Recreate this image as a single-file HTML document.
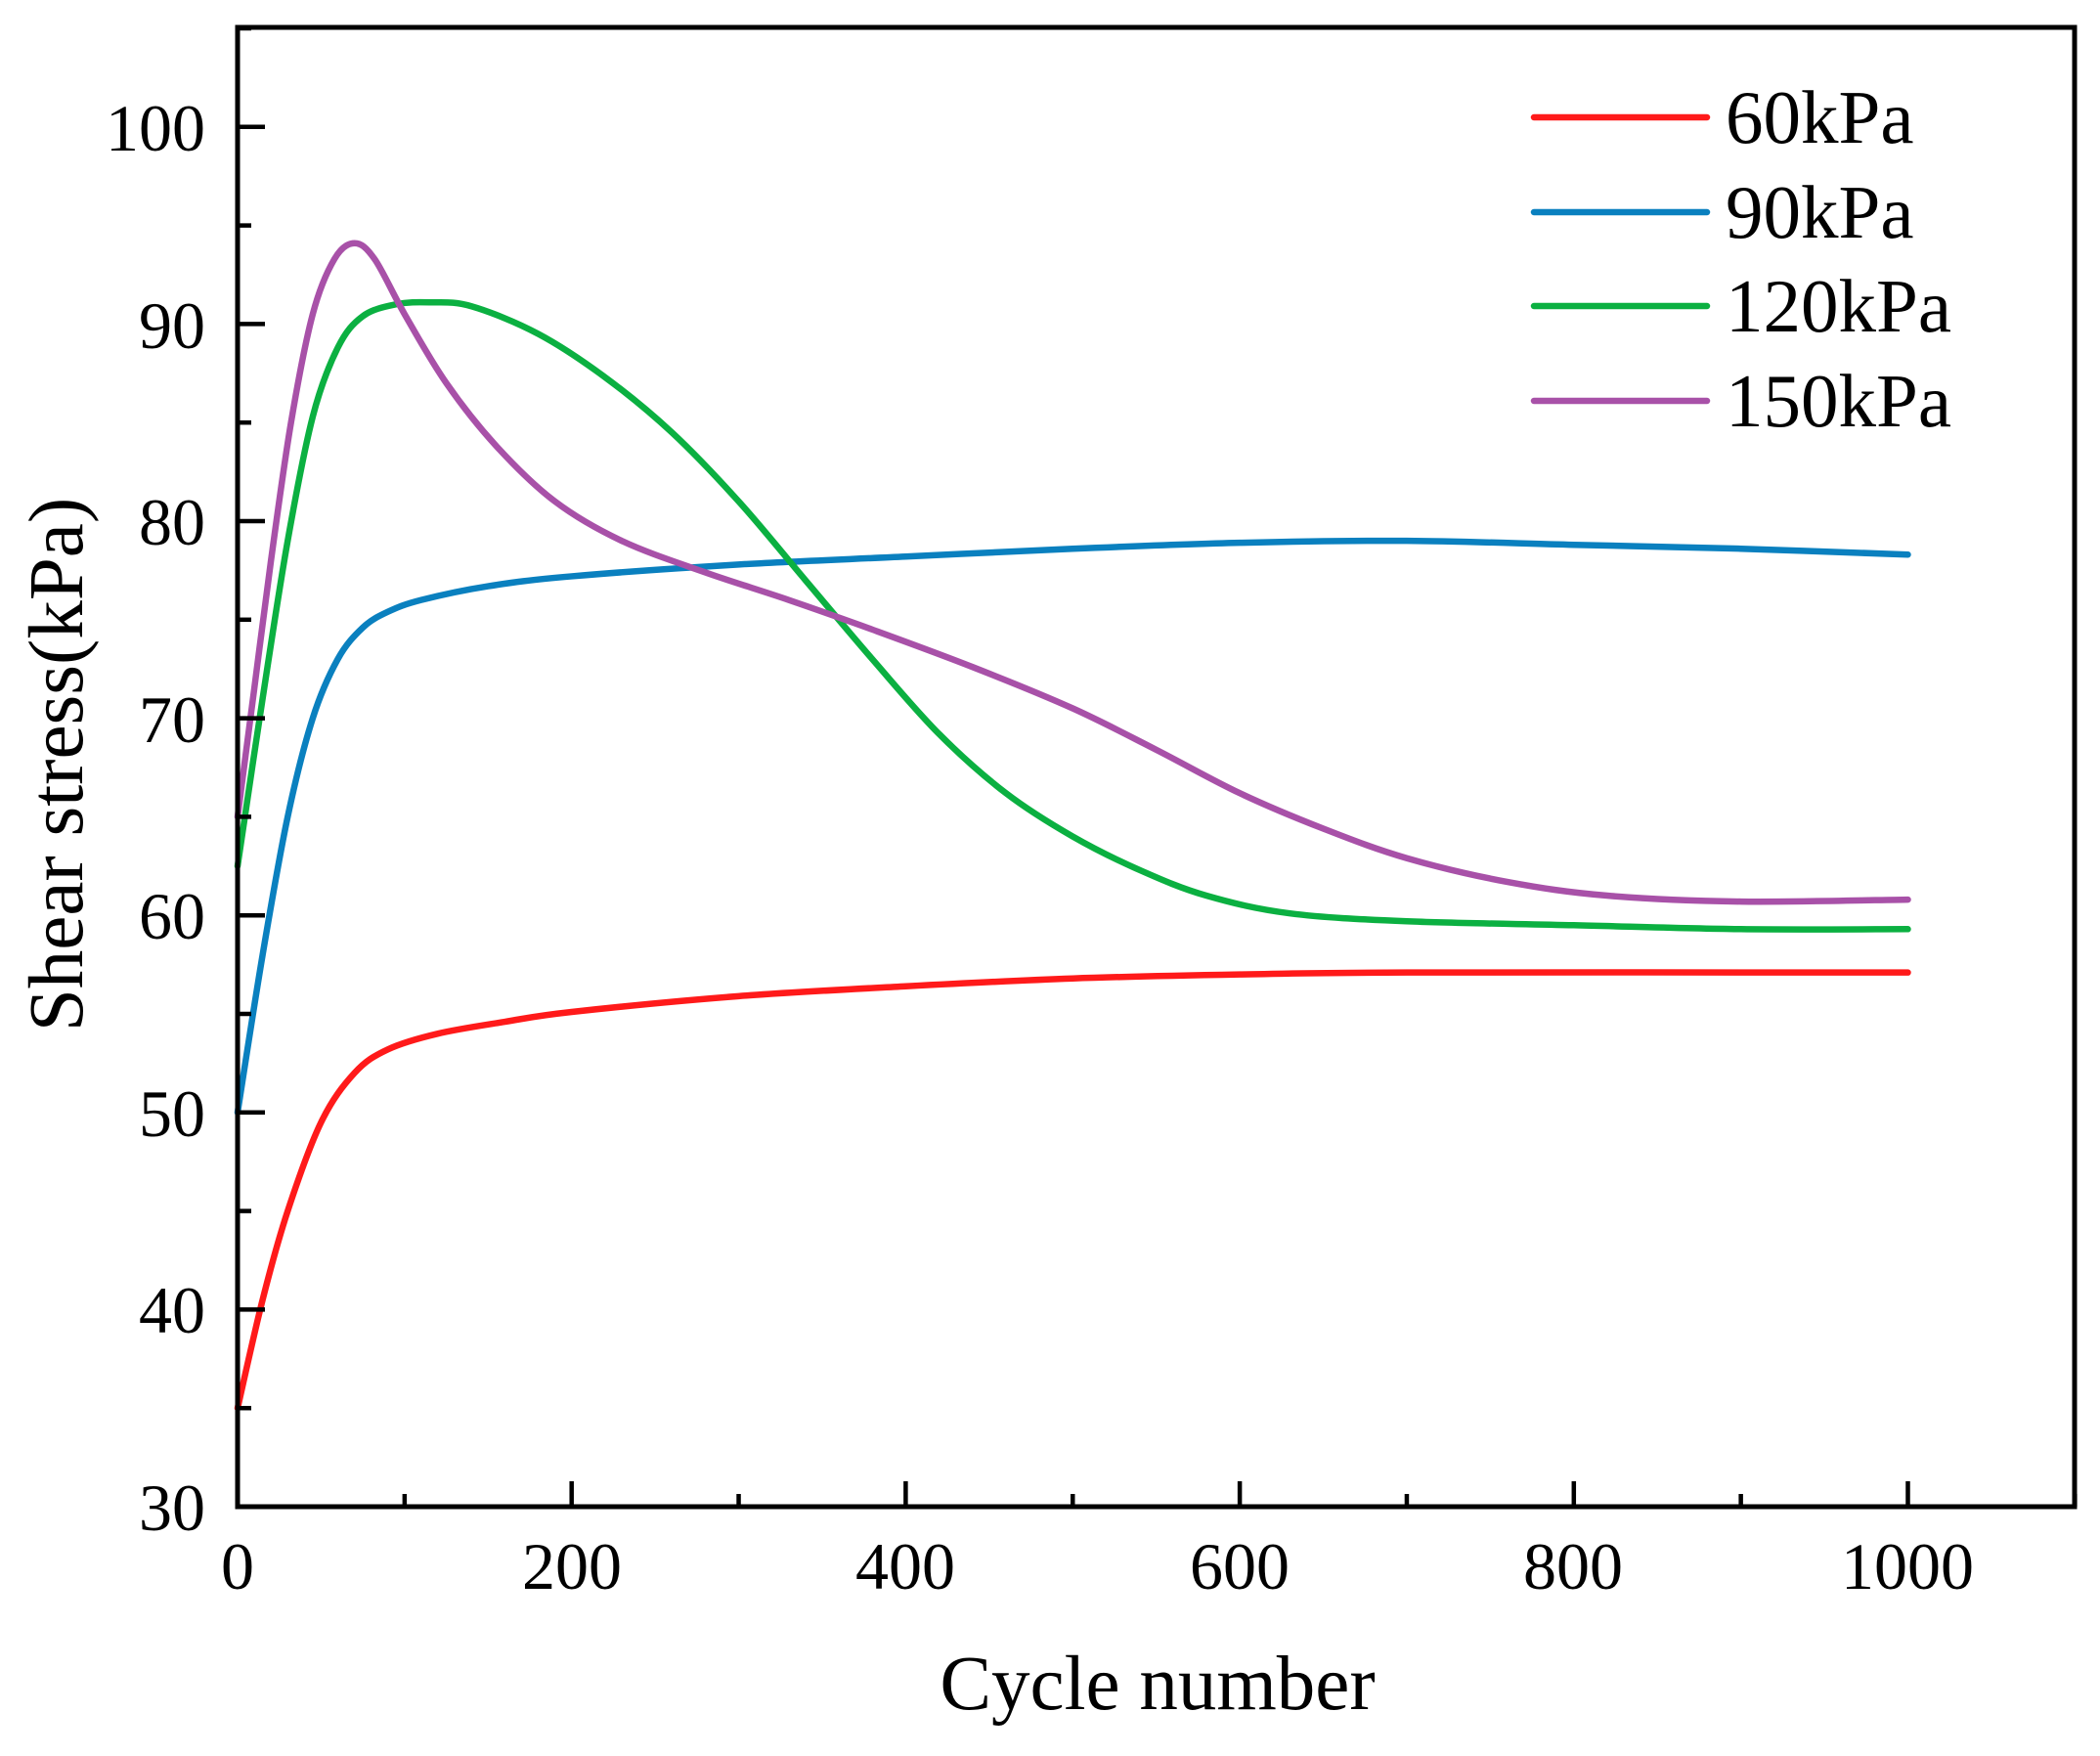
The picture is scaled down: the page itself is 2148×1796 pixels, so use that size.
<!DOCTYPE html>
<html><head><meta charset="utf-8"><style>
html,body{margin:0;padding:0;background:#fff;}
svg{display:block;}
text{font-family:"Liberation Serif","Times New Roman",serif;fill:#000;}
</style></head><body>
<svg id="s" width="2148" height="1796" viewBox="0 0 2148 1796" xmlns="http://www.w3.org/2000/svg">
<rect width="2148" height="1796" fill="#fff"/>
<g id="curves" fill="none" stroke-width="6.5" stroke-linejoin="round" stroke-linecap="round"></g>
<g id="ticks" stroke="#000" stroke-width="4.5"></g>
<rect x="243" y="28" width="1879" height="1513" fill="none" stroke="#000" stroke-width="5"/>
<g font-size="68" text-anchor="end">
<text x="210" y="1565">30</text>
<text x="210" y="1363">40</text>
<text x="210" y="1162">50</text>
<text x="210" y="960">60</text>
<text x="210" y="759">70</text>
<text x="210" y="557">80</text>
<text x="210" y="356">90</text>
<text x="210" y="154">100</text>
</g>
<g font-size="68" text-anchor="middle">
<text x="243" y="1625">0</text>
<text x="585" y="1625">200</text>
<text x="926" y="1625">400</text>
<text x="1268" y="1625">600</text>
<text x="1609" y="1625">800</text>
<text x="1951" y="1625">1000</text>
</g>
<text x="1184" y="1748" font-size="79" text-anchor="middle">Cycle number</text>
<text transform="translate(84,782) rotate(-90)" font-size="79" text-anchor="middle">Shear stress(kPa)</text>
<g stroke-width="6.5" stroke-linecap="round">
<line x1="1569" y1="120" x2="1746" y2="120" stroke="#ff1a1a"/>
<line x1="1569" y1="217" x2="1746" y2="217" stroke="#0a80bf"/>
<line x1="1569" y1="313" x2="1746" y2="313" stroke="#0bb041"/>
<line x1="1569" y1="410" x2="1746" y2="410" stroke="#a851a8"/>
</g>
<g font-size="77">
<text x="1765" y="146">60kPa</text>
<text x="1765" y="243">90kPa</text>
<text x="1765" y="339">120kPa</text>
<text x="1765" y="436">150kPa</text>
</g>
</svg>
<script>
var X=function(v){return 243+v*1.7085;}, Y=function(v){return 1541-(v-30)*20.16;};
var data={
"#ff1a1a":[[0,35],[15,40.5],[30,45],[50,49.5],[70,52],[90,53.2],[120,54],[160,54.6],[200,55.1],[300,55.9],[400,56.4],[500,56.8],[600,57],[700,57.1],[1000,57.1]],
"#0a80bf":[[0,50],[15,58],[30,65],[45,70],[60,73],[75,74.6],[90,75.4],[110,76],[150,76.7],[200,77.2],[300,77.8],[400,78.2],[500,78.6],[600,78.9],[700,79],[800,78.8],[900,78.6],[1000,78.3]],
"#0bb041":[[0,62.5],[15,71],[30,79],[45,85.3],[60,88.8],[75,90.4],[95,91],[115,91.1],[140,90.9],[180,89.5],[220,87.3],[260,84.5],[300,81],[340,77],[380,73],[420,69.2],[460,66.2],[500,64],[540,62.3],[580,61],[630,60.1],[700,59.7],[800,59.5],[900,59.3],[1000,59.3]],
"#a851a8":[[0,65],[10,71.5],[20,78],[32,85],[45,90.5],[58,93.3],[70,94.1],[82,93.3],[100,90.5],[125,87],[155,83.8],[190,81],[230,79],[280,77.4],[330,76],[380,74.5],[440,72.6],[500,70.5],[550,68.4],[600,66.2],[650,64.4],[700,62.9],[760,61.7],[820,61],[900,60.7],[1000,60.8]]
};
var g=document.getElementById('curves'),ns="http://www.w3.org/2000/svg";
for(var c in data){var p=data[c].map(function(a){return [X(a[0]),Y(a[1])];});
var d="M"+p[0][0]+","+p[0][1];
for(var i=0;i<p.length-1;i++){var p0=p[i-1]||p[i],p1=p[i],p2=p[i+1],p3=p[i+2]||p2;
d+=" C"+(p1[0]+(p2[0]-p0[0])/6)+","+(p1[1]+(p2[1]-p0[1])/6)+" "+(p2[0]-(p3[0]-p1[0])/6)+","+(p2[1]-(p3[1]-p1[1])/6)+" "+p2[0]+","+p2[1];}
var e=document.createElementNS(ns,"path");e.setAttribute("d",d);e.setAttribute("stroke",c);g.appendChild(e);}
var t=document.getElementById('ticks'),s="";
for(var v=0;v<=1100;v+=100){var x=X(v),L=(v%200==0)?26:13;s+='<line x1="'+x+'" y1="1541" x2="'+x+'" y2="'+(1541-L)+'"/>';}
for(var v=30;v<=105;v+=5){var y=Y(v),L=(v%10==0)?28:14;s+='<line x1="243" y1="'+y+'" x2="'+(243+L)+'" y2="'+y+'"/>';}
t.innerHTML=s;
</script>
</body></html>
